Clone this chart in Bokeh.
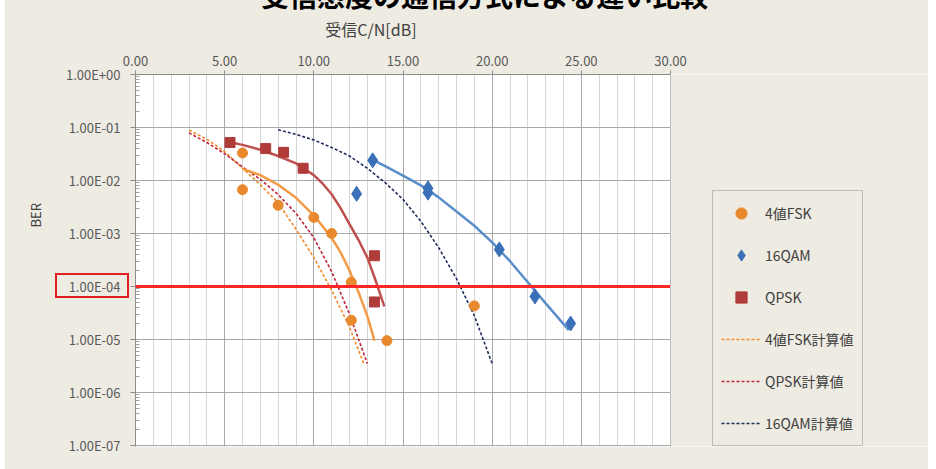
from bokeh.plotting import figure
from bokeh.layouts import column
from bokeh.models import (Range1d, FixedTicker, CustomJSTickFormatter, PrintfTickFormatter,
                          Span, BoxAnnotation, Legend, LegendItem, LinearAxis, LogAxis, Div)
from bokeh.embed import file_html
from bokeh.resources import INLINE

# ---------------- data ----------------
title_text = "受信感度の通信方式による違い比較"
x_title = "受信C/N[dB]"
y_title = "BER"

fsk_x = [6.0, 6.0, 8.0, 10.0, 11.0, 12.1, 12.1, 14.1, 19.0]
fsk_ber = [3.3e-2, 6.7e-3, 3.4e-3, 2.0e-3, 1.0e-3, 1.2e-4, 2.3e-5, 9.5e-6, 4.3e-5]

qam_x = [12.4, 13.3, 16.4, 16.4, 20.4, 22.4, 24.4]
qam_ber = [5.6e-3, 2.4e-2, 7.1e-3, 5.9e-3, 5.0e-4, 6.5e-5, 2.0e-5]

qpsk_x = [5.3, 7.3, 8.3, 9.4, 13.4, 13.4]
qpsk_ber = [5.2e-2, 4.0e-2, 3.4e-2, 1.7e-2, 3.8e-4, 5.1e-5]

# trend lines (solid)
fsk_fit_x = [6.0, 7.0, 8.0, 9.0, 10.0, 11.0, 11.5, 12.0, 12.5, 13.0, 13.4]
fsk_fit_ber = [1.66e-2, 1.26e-2, 8.3e-3, 4.7e-3, 2.2e-3, 8.3e-4, 4.4e-4, 2.0e-4, 7.9e-5, 2.75e-5, 9.5e-6]

qpsk_fit_x = [5.2, 6.0, 7.0, 8.0, 9.0, 10.0, 10.5, 11.0, 11.5, 12.0, 12.5, 13.0, 13.5, 13.95]
qpsk_fit_ber = [5.4e-2, 4.7e-2, 3.8e-2, 2.9e-2, 2.1e-2, 1.26e-2, 8.7e-3, 5.5e-3, 3.0e-3, 1.5e-3, 7.6e-4, 3.5e-4, 1.2e-4, 4.2e-5]

qam_fit_x = [13.3, 14.0, 15.0, 16.0, 17.0, 18.0, 19.0, 20.0, 21.0, 22.0, 23.0, 24.3]
qam_fit_ber = [2.45e-2, 1.86e-2, 1.23e-2, 8.1e-3, 4.8e-3, 2.6e-3, 1.4e-3, 6.8e-4, 3.0e-4, 1.2e-4, 4.8e-5, 1.5e-5]

# calculated values (dashed)
fsk_calc_x = [3.0, 4.0, 5.0, 6.0, 7.0, 8.0, 9.0, 10.0, 11.0, 12.0, 12.8]
fsk_calc_ber = [8.9e-2, 6.0e-2, 3.5e-2, 1.7e-2, 8.3e-3, 3.8e-3, 1.2e-3, 3.5e-4, 8.5e-5, 1.7e-5, 3.5e-6]

qpsk_calc_x = [3.0, 4.0, 5.0, 6.0, 7.0, 8.0, 9.0, 10.0, 11.0, 12.0, 13.0]
qpsk_calc_ber = [7.9e-2, 5.2e-2, 3.2e-2, 1.8e-2, 1.05e-2, 5.4e-3, 2.4e-3, 8.3e-4, 1.9e-4, 3.0e-5, 3.5e-6]

qam_calc_x = [8.0, 9.0, 10.0, 11.0, 12.0, 13.0, 14.0, 15.0, 16.0, 17.0, 18.0, 19.0, 20.0]
qam_calc_ber = [9.1e-2, 7.4e-2, 5.8e-2, 4.2e-2, 2.9e-2, 1.7e-2, 9.1e-3, 4.4e-3, 1.7e-3, 5.4e-4, 1.4e-4, 2.8e-5, 3.5e-6]

threshold = 1e-4
x_ticks = [0, 5, 10, 15, 20, 25, 30]
y_ticks = [1e-7, 1e-6, 1e-5, 1e-4, 1e-3, 1e-2, 1e-1, 1e0]
x_max = 30

# ---------------- layout / styles ----------------
BG = "#EEEBE3"
ORANGE_M = "#E8892E"
ORANGE_L = "#F29B45"
BLUE_M = "#3B70B8"
BLUE_L = "#5A8ECB"
RED_M = "#B03C3A"
RED_L = "#C0504D"
ORANGE_D = "#F08A2A"
RED_D = "#C02238"
NAVY_D = "#1F2D5C"
TXT = "#595959"
FONT = "Noto Sans CJK JP"

TOP_HIDDEN = 36           # the top 36 px of the figure sit above the window (cut title)
W, H = 924, 469 + TOP_HIDDEN
FL, FW_DATA = 131, 535    # frame left and width of the 0..30 part
x_end = x_max * (W - FL) / FW_DATA   # frame runs on to the right edge (legend area)

p = figure(width=W, height=H, output_backend="svg", toolbar_location=None,
           x_axis_location="above", y_axis_type="log",
           x_range=Range1d(0, x_end), y_range=Range1d(10 ** -7.02, 1),
           min_border_left=FL, min_border_right=0, min_border_top=74 + TOP_HIDDEN,
           min_border_bottom=23)
p.margin = (-TOP_HIDDEN, 0, 0, 4)
p.background_fill_color = "white"
p.border_fill_color = BG
p.outline_line_color = None

minor_x = list(range(0, 31))
minor_y = [k * d for d in [1e-7, 1e-6, 1e-5, 1e-4, 1e-3, 1e-2, 1e-1] for k in range(2, 10)]
xt = FixedTicker(ticks=x_ticks, minor_ticks=minor_x)
yt = FixedTicker(ticks=y_ticks, minor_ticks=minor_y)

xa = p.xaxis[0]
xa.ticker = xt
xa.bounds = (0, x_max)
xa.formatter = PrintfTickFormatter(format="%.2f")
xa.major_label_text_font = FONT
xa.major_label_text_font_size = "13px"
xa.major_label_text_color = TXT
xa.axis_line_color = "#8C8C8C"
xa.major_tick_line_color = "#8C8C8C"
xa.major_tick_out = 4
xa.major_tick_in = 0
xa.minor_tick_line_color = None
xa.major_label_standoff = 5

ya = p.yaxis[0]
ya.ticker = yt
ya.formatter = CustomJSTickFormatter(code="""
const e = Math.round(Math.log10(tick));
const a = Math.abs(e);
return '1.00E' + (e < 0 ? '-' : '+') + (a < 10 ? '0' : '') + a;
""")
ya.major_label_text_font = FONT
ya.major_label_text_font_size = "13px"
ya.major_label_text_color = TXT
ya.axis_line_color = "#8C8C8C"
ya.major_tick_line_color = "#8C8C8C"
ya.major_tick_out = 5
ya.major_tick_in = 0
ya.minor_tick_line_color = "#A0A0A0"
ya.minor_tick_in = 4
ya.minor_tick_out = 0
ya.major_label_standoff = 10

# axis title above (x) and at left (y), main title further above
ax_title_x = LinearAxis(ticker=FixedTicker(ticks=[13.2]),
                        formatter=CustomJSTickFormatter(args=dict(t=x_title), code="return t;"),
                        axis_line_color=None, major_tick_line_color=None, minor_tick_line_color=None,
                        major_label_standoff=6, major_label_text_font=FONT,
                        major_label_text_font_size="16px", major_label_text_color="#404040")
p.add_layout(ax_title_x, "above")
ax_main = LinearAxis(ticker=FixedTicker(ticks=[19.6]),
                     formatter=CustomJSTickFormatter(args=dict(t=title_text), code="return t;"),
                     axis_line_color=None, major_tick_line_color=None, minor_tick_line_color=None,
                     major_label_standoff=-7, major_label_text_font=FONT,
                     major_label_text_font_size="28px", major_label_text_font_style="bold",
                     major_label_text_color="black")
p.add_layout(ax_main, "above")
ax_title_y = LogAxis(ticker=FixedTicker(ticks=[2.2e-3]),
                     formatter=CustomJSTickFormatter(args=dict(t=y_title), code="return t;"),
                     axis_line_color=None, major_tick_line_color=None, minor_tick_line_color=None,
                     major_label_orientation="vertical", major_label_standoff=11,
                     major_label_text_font=FONT, major_label_text_font_size="13px",
                     major_label_text_color="#404040")
p.add_layout(ax_title_y, "left")

p.xgrid.ticker = xt
p.ygrid.ticker = yt
p.xgrid.grid_line_color = "#A8A8A8"
p.xgrid.minor_grid_line_color = "#D6D6D6"
p.ygrid.grid_line_color = "#A8A8A8"
p.ygrid.minor_grid_line_color = None

# dashed calculated curves
r_fc = p.line(fsk_calc_x, fsk_calc_ber, line_color=ORANGE_D, line_width=1.6, line_dash="3 2")
r_qc = p.line(qpsk_calc_x, qpsk_calc_ber, line_color=RED_D, line_width=1.6, line_dash="3 2")
r_ac = p.line(qam_calc_x, qam_calc_ber, line_color=NAVY_D, line_width=1.6, line_dash="3 2")

# solid trend curves
p.line(fsk_fit_x, fsk_fit_ber, line_color=ORANGE_L, line_width=2.5)
p.line(qpsk_fit_x, qpsk_fit_ber, line_color=RED_L, line_width=2.5)
p.line(qam_fit_x, qam_fit_ber, line_color=BLUE_L, line_width=2.5)

# markers
r_f = p.scatter(fsk_x, fsk_ber, marker="circle", size=10, fill_color=ORANGE_M, line_color=ORANGE_M)
r_a = p.scatter(qam_x, qam_ber, marker="diamond", size=15, fill_color=BLUE_M, line_color=BLUE_M)
r_q = p.scatter(qpsk_x, qpsk_ber, marker="square", size=10, fill_color=RED_M, line_color=RED_M)

# threshold line, then the beige area right of the plot, then the plot's right edge
p.add_layout(Span(location=threshold, dimension="width", line_color="#FF2626", line_width=3))
p.add_layout(BoxAnnotation(left=x_max, fill_color=BG, fill_alpha=1, line_alpha=0))
p.add_layout(Span(location=x_max, dimension="height", line_color="#BDBDBD", line_width=1))

legend = Legend(items=[
    LegendItem(label="4値FSK", renderers=[r_f]),
    LegendItem(label="16QAM", renderers=[r_a]),
    LegendItem(label="QPSK", renderers=[r_q]),
    LegendItem(label="4値FSK計算値", renderers=[r_fc]),
    LegendItem(label="QPSK計算値", renderers=[r_qc]),
    LegendItem(label="16QAM計算値", renderers=[r_ac]),
], location=(577, 0))
legend.glyph_width = 40
legend.glyph_height = 28
legend.label_height = 28
legend.spacing = 14
legend.padding = 8
legend.margin = 0
legend.label_standoff = 4
legend.label_text_font = FONT
legend.label_text_font_size = "14px"
legend.label_text_color = "#404040"
legend.background_fill_color = BG
legend.background_fill_alpha = 1
legend.border_line_color = "#8C8C8C"
legend.border_line_width = 1
p.add_layout(legend, "center")

# red frame round the 1.00E-04 tick label, laid over the figure
box = Div(text='<div style="width:74px;height:25px;border:2px solid #E02020;"></div>',
          width=78, height=29)
box.margin = (273 - 469, 0, 0, 55)

page = column(p, box)
open("out.html", "w").write(file_html(page, INLINE))
